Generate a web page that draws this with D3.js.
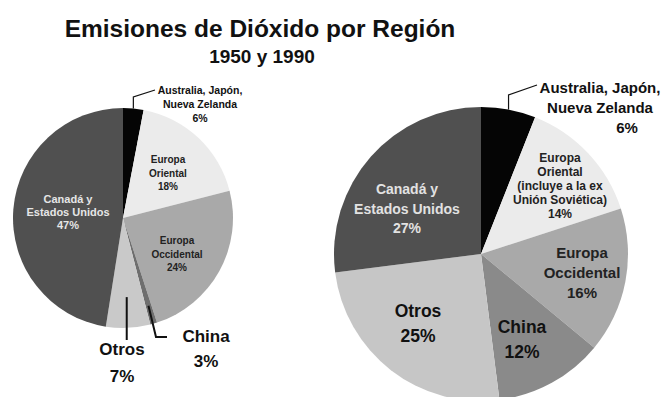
<!DOCTYPE html>
<html lang="es">
<head>
<meta charset="UTF-8">
<title>Emisiones de Dióxido por Región</title>
<style>
body { margin: 0; background: #fff; }
svg { display: block; font-family: "Liberation Sans", Arial, sans-serif; }
</style>
</head>
<body>
<svg id="chart" width="662" height="397"></svg>
<script src="https://cdn.jsdelivr.net/npm/d3@7"></script>
<script>

// regions, clockwise from 12 o'clock
const regions = ["Australia, Japón, Nueva Zelanda", "Europa Oriental", "Europa Occidental", "China", "Otros", "Canadá y Estados Unidos"];

// 1950: slice sizes as drawn in the original, and the printed percentages
const shares1950 = [3, 18, 24, 1, 6.5, 47.5];
const pct1950 = [6, 18, 24, 3, 7, 47];

// 1990
const shares1990 = [6, 14, 16, 12, 25, 27];
const pct1990 = [6, 14, 16, 12, 25, 27];

const colors1950 = ["#050505", "#ebebeb", "#a9a9a9", "#6e6e6e", "#c9c9c9", "#505050"];
const colors1990 = ["#050505", "#ebebeb", "#a9a9a9", "#8a8a8a", "#c6c6c6", "#505050"];

const svg = d3.select("#chart");

svg.append("text")
	.attr("x", 260).attr("y", 37)
	.attr("text-anchor", "middle")
	.attr("font-size", 24.5).attr("font-weight", "bold")
	.attr("fill", "#111")
	.text("Emisiones de Dióxido por Región");

svg.append("text")
	.attr("x", 262).attr("y", 63)
	.attr("text-anchor", "middle")
	.attr("font-size", 19).attr("font-weight", "bold")
	.attr("fill", "#111")
	.text("1950 y 1990");

function pct(v) { return v + "%"; }

// label layout per pie: [x, y of first baseline, line height, font size, fill, lines]
const labels1950 = [
	{x: 200, y: 94, lh: 14, fs: 10.5, fill: "#111", lines: ["Australia, Japón,", "Nueva Zelanda"]},
	{x: 168, y: 163, lh: 13.5, fs: 10, fill: "#222", lines: ["Europa", "Oriental"]},
	{x: 177, y: 244, lh: 13.5, fs: 10, fill: "#222", lines: ["Europa", "Occidental"]},
	{x: 206, y: 342, lh: 25, fs: 17, fill: "#111", lines: ["China"]},
	{x: 122, y: 355, lh: 27, fs: 17, fill: "#111", lines: ["Otros"]},
	{x: 68, y: 203, lh: 13, fs: 11, fill: "#e6e6e6", lines: ["Canadá y", "Estados Unidos"]}
];
const labels1990 = [
	{x: 600, y: 93, lh: 20, fs: 15, fill: "#111", lines: ["Australia, Japón,", "Nueva Zelanda"], pdx: 27},
	{x: 560, y: 162, lh: 14, fs: 12, fill: "#222", lines: ["Europa", "Oriental", "(incluye a la ex", "Unión Soviética)"]},
	{x: 582, y: 258, lh: 20, fs: 15, fill: "#222", lines: ["Europa", "Occidental"]},
	{x: 522, y: 333, lh: 25, fs: 17.5, fill: "#111", lines: ["China"]},
	{x: 418, y: 317, lh: 25, fs: 17.5, fill: "#111", lines: ["Otros"]},
	{x: 407, y: 194, lh: 19.5, fs: 14, fill: "#e2e2e2", lines: ["Canadá y", "Estados Unidos"]}
];

function drawPie(cx, cy, r, shares, pcts, colors, labels, leaders) {
	const pie = d3.pie().sort(null).value(d => d.share);
	const data = pie(shares.map((s, i) => ({region: regions[i], share: s, pct: pcts[i]})));
	const arc = d3.arc().innerRadius(0).outerRadius(r);

	const g = svg.append("g").attr("transform", `translate(${cx},${cy})`);

	g.selectAll("path.slice")
		.data(data)
		.join("path")
		.attr("class", "slice")
		.attr("d", arc)
		.attr("fill", (d, i) => colors[i]);

	// leader lines
	leaders.forEach(l => {
		const d = data[l.i];
		const a = (d.startAngle + d.endAngle) / 2;
		const p0 = [cx + Math.sin(a) * r * l.k, cy - Math.cos(a) * r * l.k];
		const pts = [p0].concat(l.pts(p0));
		svg.append("path")
			.attr("d", d3.line()(pts))
			.attr("fill", "none")
			.attr("stroke", "#111")
			.attr("stroke-width", l.w || 1.5);
	});

	// labels
	labels.forEach((lab, i) => {
		const t = svg.append("text")
			.attr("text-anchor", "middle")
			.attr("font-size", lab.fs)
			.attr("font-weight", "bold")
			.attr("fill", lab.fill);
		lab.lines.forEach((line, j) => {
			t.append("tspan").attr("x", lab.x).attr("y", lab.y + j * lab.lh).text(line);
		});
		t.append("tspan")
			.attr("x", lab.x + (lab.pdx || 0))
			.attr("y", lab.y + lab.lines.length * lab.lh)
			.text(pct(data[i].data.pct));
	});
}

drawPie(123, 218, 110, shares1950, pct1950, colors1950, labels1950, [
	{i: 0, k: 1, pts: p => [[p[0], 97], [155, 90]], w: 1.2},
	{i: 4, k: 0.72, pts: p => [[p[0], 340]], w: 2},
	{i: 3, k: 0.83, pts: p => [[156, 337], [167, 337]], w: 2}
]);

drawPie(481, 254, 147, shares1990, pct1990, colors1990, labels1990, [
	{i: 0, k: 1, pts: p => [[p[0], 95], [537, 85]], w: 1.2}
]);

</script>
</body>
</html>
